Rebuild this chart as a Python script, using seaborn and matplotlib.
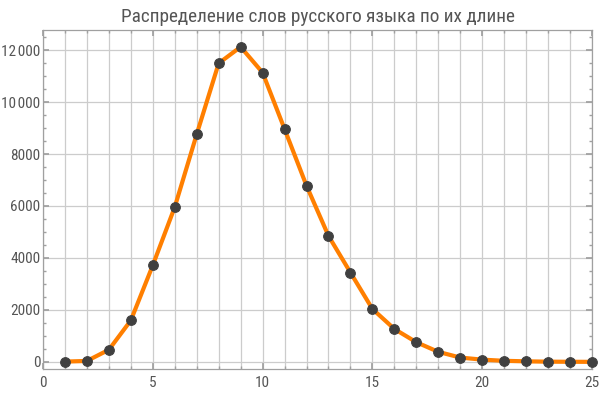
import matplotlib
matplotlib.use("Agg")
import matplotlib.pyplot as plt
import seaborn as sns
import numpy as np
import pandas as pd
from matplotlib import font_manager
from matplotlib.ticker import MultipleLocator, FuncFormatter

word_length = list(range(1, 26))
word_count = [15, 40, 470, 1600, 3720, 5960, 8760, 11490, 12120, 11130,
              8960, 6780, 4850, 3440, 2040, 1270, 760, 390, 170, 90,
              45, 25, 12, 8, 5]
title = "Распределение слов русского языка по их длине"
x_ticks = [0, 5, 10, 15, 20, 25]
y_ticks = [0, 2000, 4000, 6000, 8000, 10000, 12000]

df = pd.DataFrame({"len": word_length, "count": word_count})

sns.set_theme(style="white")

# pick a narrow font if one is installed
entries = font_manager.fontManager.ttflist
names = {f.name for f in entries}
stretch = "normal"
chosen = None
for cand in ["Liberation Sans Narrow", "Roboto Condensed", "Open Sans Condensed",
             "DejaVu Sans Condensed", "Noto Sans Condensed"]:
    if cand in names:
        chosen = cand
        break
if chosen is None:
    cond = [f for f in entries if str(f.stretch) in ("condensed", "semi-condensed", "500", "600")
            and f.name in ("DejaVu Sans", "Noto Sans", "Open Sans", "Roboto")]
    if cond:
        chosen = cond[0].name
        stretch = "condensed"
if chosen is None:
    chosen = "Roboto" if "Roboto" in names else "DejaVu Sans"
plt.rcParams['font.family'] = [chosen, 'DejaVu Sans']
plt.rcParams['font.stretch'] = stretch

tick_size = 11
title_size = 13.9

fig = plt.figure(figsize=(6, 3.97), dpi=100)
ax = fig.add_axes([43/600, 28/397, (592-43)/600, (369-30)/397])

sns.lineplot(data=df, x="len", y="count", ax=ax, color="#FF7F00", linewidth=3.0,
             marker="o", markersize=7, markerfacecolor="#404040",
             markeredgecolor="#404040", clip_on=False, zorder=3)

ax.set_xlim(0, 25)
ax.set_ylim(-270, 12770)
ax.set_xticks(x_ticks)
ax.set_yticks(y_ticks)
ax.xaxis.set_minor_locator(MultipleLocator(1))
ax.yaxis.set_minor_locator(MultipleLocator(500))

def fmt(v, pos):
    v = int(v)
    if v >= 10000:
        s = f"{v:d}"
        return s[:-3] + "\u200a" + s[-3:]
    return f"{v:d}"
ax.yaxis.set_major_formatter(FuncFormatter(fmt))

ax.grid(True, which="both", axis="x", color="#cccccc", linewidth=0.9)
ax.grid(True, which="major", axis="y", color="#cccccc", linewidth=0.9)
ax.set_axisbelow(True)

for s in ax.spines.values():
    s.set_color("#a0a0a0")
    s.set_linewidth(0.9)

ax.tick_params(axis="both", which="both", direction="in", colors="#a0a0a0",
               labelcolor="#555555", labelsize=tick_size, top=True, right=True,
               left=True, bottom=True)
ax.tick_params(which="major", length=4)
ax.tick_params(which="minor", length=2.5)
ax.tick_params(axis="x", pad=5)
ax.tick_params(axis="y", pad=2)

ax.set_xlabel("")
ax.set_ylabel("")
ax.set_title(title, fontsize=title_size, color="#555555", pad=6)

fig.savefig("out.png", dpi=100)
